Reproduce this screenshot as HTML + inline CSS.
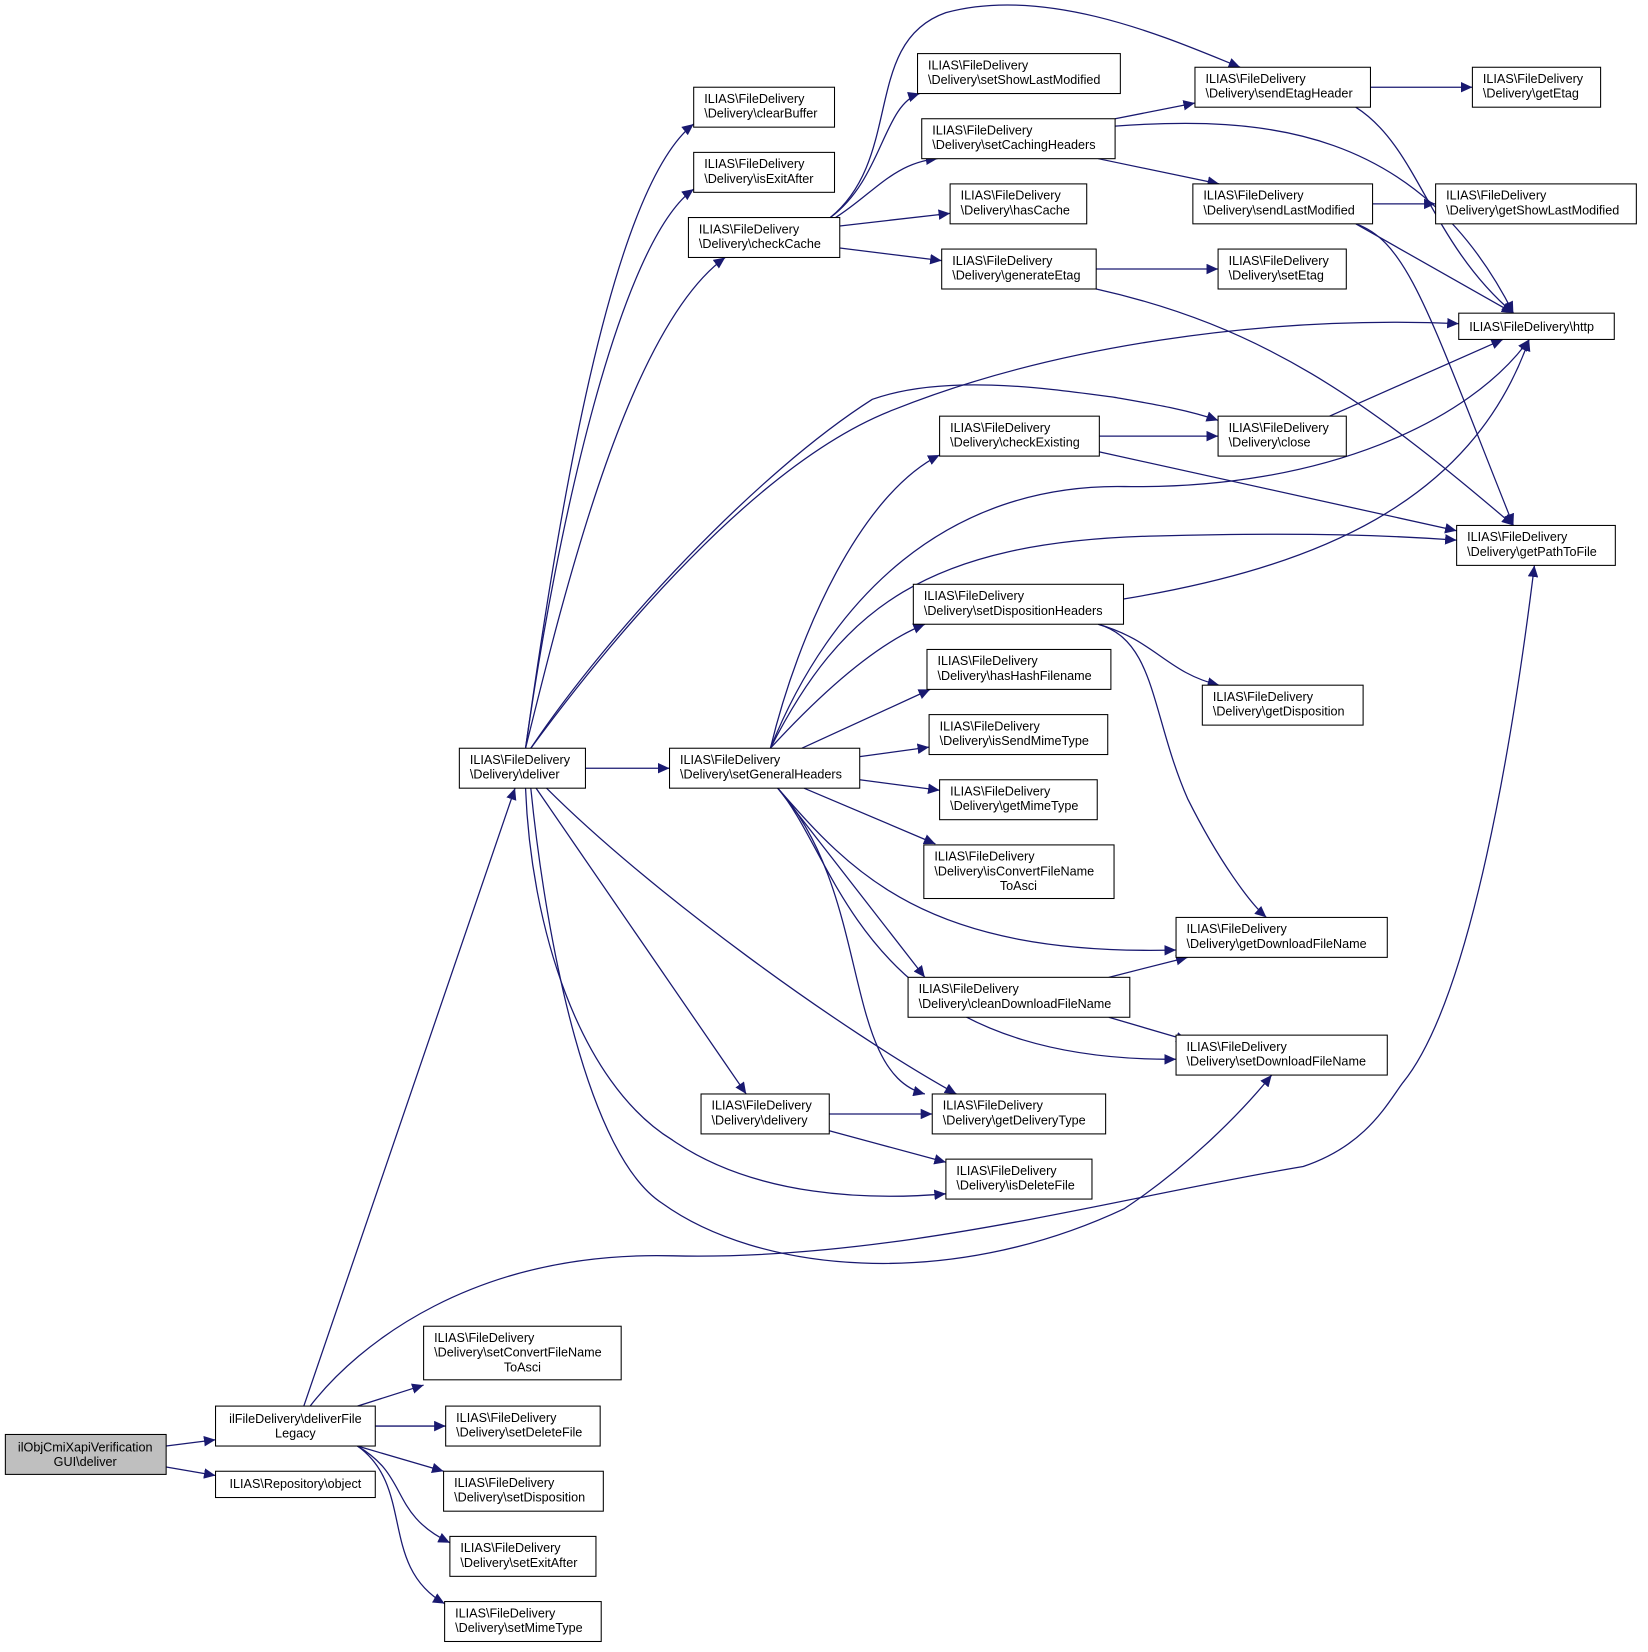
<!DOCTYPE html>
<html><head><meta charset="utf-8"><style>
html,body{margin:0;padding:0;background:#fff;}
svg{display:block;}
text{font-family:"Liberation Sans",sans-serif;font-size:12px;fill:#000;}
</style></head><body>
<svg width="1648" height="1652" viewBox="0 0 1568 1572" xmlns="http://www.w3.org/2000/svg">
<defs><marker id="a" markerUnits="userSpaceOnUse" markerWidth="12" markerHeight="10" refX="11" refY="5" orient="auto"><path d="M0,0 L11,5 L0,10 z" fill="#191970"/></marker></defs>
<g fill="none" stroke="#191970" stroke-width="1.2" marker-end="url(#a)">
<path d="M158,1376 L205,1370"/>
<path d="M158,1396 L205,1404"/>
<path d="M289,1338 L490,750"/>
<path d="M295,1338 C340,1280 450,1190 640,1195 C850,1200 1060,1140 1240,1110 C1300,1090 1320,1050 1335,1030 C1400,950 1440,700 1460,538"/>
<path d="M340,1338 L403,1318"/>
<path d="M357,1357 L424,1357"/>
<path d="M340,1376 L422,1400"/>
<path d="M340,1376 C390,1405 370,1440 428,1468"/>
<path d="M340,1376 C395,1415 360,1490 423,1526"/>
<path d="M500,712 C530,500 580,180 660,118"/>
<path d="M500,712 C530,500 590,230 660,180"/>
<path d="M500,712 C540,550 600,310 690,245"/>
<path d="M557,731 L637,731"/>
<path d="M510,750 L710,1041"/>
<path d="M520,750 C620,850 800,980 910,1041"/>
<path d="M500,750 C505,880 550,1030 640,1085 C720,1140 830,1142 900,1136"/>
<path d="M505,712 C580,600 720,450 830,380 C900,355 1000,370 1060,378 C1100,385 1130,390 1159,400"/>
<path d="M505,712 C580,610 720,440 850,390 C1000,330 1200,300 1388,308"/>
<path d="M505,750 C520,900 560,1100 630,1145 C720,1210 900,1230 1070,1150 C1130,1110 1180,1060 1210,1023"/>
<path d="M733,712 C760,600 820,470 894,433"/>
<path d="M733,712 C790,570 900,460 1070,463 C1260,466 1400,400 1455,323"/>
<path d="M733,712 C800,580 880,515 1100,510 C1250,506 1330,510 1386,514"/>
<path d="M733,712 C790,650 840,610 880,594"/>
<path d="M763,712 L885,656"/>
<path d="M818,720 L884,711"/>
<path d="M818,742 L894,752"/>
<path d="M765,750 L890,803"/>
<path d="M740,750 C810,830 880,910 1119,904"/>
<path d="M740,750 L880,930"/>
<path d="M740,750 C800,820 820,1010 1119,1008"/>
<path d="M740,750 C830,850 800,1020 880,1041"/>
<path d="M790,207 C840,170 840,100 875,89"/>
<path d="M795,207 C830,185 850,155 892,151"/>
<path d="M799,215 L904,203"/>
<path d="M799,236 L896,248"/>
<path d="M790,207 C860,150 820,40 900,12 C1000,-15 1120,40 1180,64"/>
<path d="M1061,113 L1137,98"/>
<path d="M1045,151 L1160,175"/>
<path d="M1061,120 C1200,110 1350,120 1440,298"/>
<path d="M1304,83 L1401,83"/>
<path d="M1290,102 C1350,140 1360,230 1440,298"/>
<path d="M1306,194 L1366,194"/>
<path d="M1290,213 L1440,298"/>
<path d="M1290,213 C1340,230 1360,300 1440,500"/>
<path d="M1043,256 L1159,256"/>
<path d="M1043,275 C1200,310 1300,380 1440,500"/>
<path d="M1046,415 L1159,415"/>
<path d="M1046,430 L1386,505"/>
<path d="M1265,396 L1430,323"/>
<path d="M1069,570 C1250,540 1400,480 1455,323"/>
<path d="M1045,594 C1100,610 1110,640 1160,652"/>
<path d="M1045,594 C1100,610 1095,680 1130,760 C1160,820 1190,860 1205,873"/>
<path d="M1055,930 L1130,911"/>
<path d="M1055,968 L1130,990"/>
<path d="M789,1060 L887,1060"/>
<path d="M789,1076 L900,1106"/>
</g>
<g stroke="#000" stroke-width="1" fill="#fff">
<rect x="5" y="1365" width="153" height="38" fill="#bfbfbf"/>
<rect x="205" y="1338" width="152" height="38"/>
<rect x="205" y="1400" width="152" height="25"/>
<rect x="403" y="1262" width="188" height="51"/>
<rect x="424" y="1338" width="147" height="38"/>
<rect x="422" y="1400" width="152" height="38"/>
<rect x="428" y="1462" width="139" height="38"/>
<rect x="423" y="1524" width="149" height="38"/>
<rect x="437" y="712" width="120" height="38"/>
<rect x="660" y="83" width="134" height="38"/>
<rect x="660" y="145" width="134" height="38"/>
<rect x="655" y="207" width="144" height="38"/>
<rect x="637" y="712" width="181" height="38"/>
<rect x="667" y="1041" width="122" height="38"/>
<rect x="873" y="51" width="193" height="38"/>
<rect x="877" y="113" width="184" height="38"/>
<rect x="904" y="175" width="130" height="38"/>
<rect x="896" y="237" width="147" height="38"/>
<rect x="894" y="396" width="152" height="38"/>
<rect x="869" y="556" width="200" height="38"/>
<rect x="882" y="618" width="175" height="38"/>
<rect x="884" y="680" width="170" height="38"/>
<rect x="894" y="742" width="150" height="38"/>
<rect x="879" y="804" width="181" height="51"/>
<rect x="864" y="930" width="211" height="38"/>
<rect x="887" y="1041" width="165" height="38"/>
<rect x="900" y="1103" width="139" height="38"/>
<rect x="1137" y="64" width="167" height="38"/>
<rect x="1135" y="175" width="171" height="38"/>
<rect x="1159" y="237" width="122" height="38"/>
<rect x="1159" y="396" width="122" height="38"/>
<rect x="1144" y="652" width="153" height="38"/>
<rect x="1119" y="873" width="201" height="38"/>
<rect x="1119" y="985" width="201" height="38"/>
<rect x="1401" y="64" width="122" height="38"/>
<rect x="1366" y="175" width="191" height="38"/>
<rect x="1388" y="298" width="148" height="25"/>
<rect x="1386" y="500" width="151" height="38"/>
</g>
<g text-anchor="middle">
<text x="81" y="1381">ilObjCmiXapiVerification</text><text x="81" y="1395">GUI\deliver</text>
<text x="281" y="1354">ilFileDelivery\deliverFile</text><text x="281" y="1368">Legacy</text>
<text x="281" y="1416">ILIAS\Repository\object</text>
</g>
<g text-anchor="start">
<text x="413" y="1277">ILIAS\FileDelivery</text><text x="413" y="1291">\Delivery\setConvertFileName</text><text x="497" y="1305" text-anchor="middle">ToAsci</text>
<text x="434" y="1353">ILIAS\FileDelivery</text><text x="434" y="1367">\Delivery\setDeleteFile</text>
<text x="432" y="1415">ILIAS\FileDelivery</text><text x="432" y="1429">\Delivery\setDisposition</text>
<text x="438" y="1477">ILIAS\FileDelivery</text><text x="438" y="1491">\Delivery\setExitAfter</text>
<text x="433" y="1539">ILIAS\FileDelivery</text><text x="433" y="1553">\Delivery\setMimeType</text>
<text x="447" y="727">ILIAS\FileDelivery</text><text x="447" y="741">\Delivery\deliver</text>
<text x="670" y="98">ILIAS\FileDelivery</text><text x="670" y="112">\Delivery\clearBuffer</text>
<text x="670" y="160">ILIAS\FileDelivery</text><text x="670" y="174">\Delivery\isExitAfter</text>
<text x="665" y="222">ILIAS\FileDelivery</text><text x="665" y="236">\Delivery\checkCache</text>
<text x="647" y="727">ILIAS\FileDelivery</text><text x="647" y="741">\Delivery\setGeneralHeaders</text>
<text x="677" y="1056">ILIAS\FileDelivery</text><text x="677" y="1070">\Delivery\delivery</text>
<text x="883" y="66">ILIAS\FileDelivery</text><text x="883" y="80">\Delivery\setShowLastModified</text>
<text x="887" y="128">ILIAS\FileDelivery</text><text x="887" y="142">\Delivery\setCachingHeaders</text>
<text x="914" y="190">ILIAS\FileDelivery</text><text x="914" y="204">\Delivery\hasCache</text>
<text x="906" y="252">ILIAS\FileDelivery</text><text x="906" y="266">\Delivery\generateEtag</text>
<text x="904" y="411">ILIAS\FileDelivery</text><text x="904" y="425">\Delivery\checkExisting</text>
<text x="879" y="571">ILIAS\FileDelivery</text><text x="879" y="585">\Delivery\setDispositionHeaders</text>
<text x="892" y="633">ILIAS\FileDelivery</text><text x="892" y="647">\Delivery\hasHashFilename</text>
<text x="894" y="695">ILIAS\FileDelivery</text><text x="894" y="709">\Delivery\isSendMimeType</text>
<text x="904" y="757">ILIAS\FileDelivery</text><text x="904" y="771">\Delivery\getMimeType</text>
<text x="889" y="819">ILIAS\FileDelivery</text><text x="889" y="833">\Delivery\isConvertFileName</text><text x="969" y="847" text-anchor="middle">ToAsci</text>
<text x="874" y="945">ILIAS\FileDelivery</text><text x="874" y="959">\Delivery\cleanDownloadFileName</text>
<text x="897" y="1056">ILIAS\FileDelivery</text><text x="897" y="1070">\Delivery\getDeliveryType</text>
<text x="910" y="1118">ILIAS\FileDelivery</text><text x="910" y="1132">\Delivery\isDeleteFile</text>
<text x="1147" y="79">ILIAS\FileDelivery</text><text x="1147" y="93">\Delivery\sendEtagHeader</text>
<text x="1145" y="190">ILIAS\FileDelivery</text><text x="1145" y="204">\Delivery\sendLastModified</text>
<text x="1169" y="252">ILIAS\FileDelivery</text><text x="1169" y="266">\Delivery\setEtag</text>
<text x="1169" y="411">ILIAS\FileDelivery</text><text x="1169" y="425">\Delivery\close</text>
<text x="1154" y="667">ILIAS\FileDelivery</text><text x="1154" y="681">\Delivery\getDisposition</text>
<text x="1129" y="888">ILIAS\FileDelivery</text><text x="1129" y="902">\Delivery\getDownloadFileName</text>
<text x="1129" y="1000">ILIAS\FileDelivery</text><text x="1129" y="1014">\Delivery\setDownloadFileName</text>
<text x="1411" y="79">ILIAS\FileDelivery</text><text x="1411" y="93">\Delivery\getEtag</text>
<text x="1376" y="190">ILIAS\FileDelivery</text><text x="1376" y="204">\Delivery\getShowLastModified</text>
<text x="1398" y="315">ILIAS\FileDelivery\http</text>
<text x="1396" y="515">ILIAS\FileDelivery</text><text x="1396" y="529">\Delivery\getPathToFile</text>
</g>
</svg>
</body></html>
